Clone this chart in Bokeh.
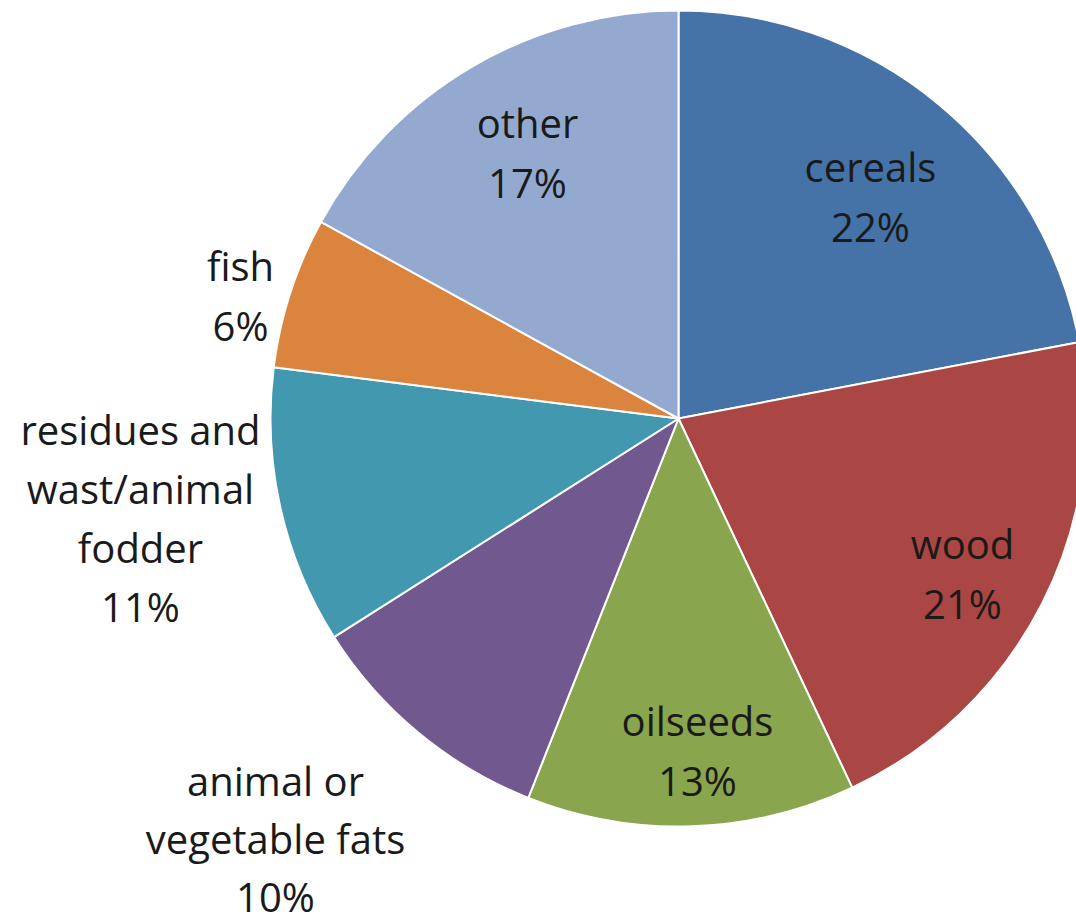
import math
from bokeh.plotting import figure
from bokeh.models import Range1d, ColumnDataSource
from bokeh.core.properties import value
from bokeh.embed import file_html
from bokeh.resources import INLINE

# ---- data ----
categories = ["cereals", "wood", "oilseeds", "animal or vegetable fats",
              "residues and wast/animal fodder", "fish", "other"]
shares = [22, 21, 13, 10, 11, 6, 17]
label_lines = [["cereals"], ["wood"], ["oilseeds"], ["animal or", "vegetable fats"],
               ["residues and", "wast/animal", "fodder"], ["fish"], ["other"]]
colors = ["#4572A7", "#AA4643", "#89A54E", "#71588F", "#4198AF", "#DB843D", "#93A9CF"]

# ---- layout (picture pixel coordinates) ----
W, H = 1076, 924
cx, cy, R = 678, 418, 408
label_pos = [(870, 196), (962, 573), (697, 750), (275, 838),
             (140, 517), (240, 295), (527, 152)]
label_lh = [60, 60, 60, 58, 59, 60, 60]
FONT = "Open Sans"
FSIZE = "40px"

p = figure(width=W, height=H, output_backend="svg", toolbar_location=None,
           x_range=Range1d(0, W), y_range=Range1d(0, H),
           min_border=0)
p.axis.visible = False
p.grid.visible = False
p.outline_line_color = None
p.background_fill_color = "white"

total = float(sum(shares))
starts, ends = [], []
cum = 0.0
for s in shares:
    a0 = math.pi / 2 - 2 * math.pi * cum / total
    cum += s
    a1 = math.pi / 2 - 2 * math.pi * cum / total
    starts.append(a1)
    ends.append(a0)

src = ColumnDataSource(dict(start=starts, end=ends, color=colors, cat=categories))
p.wedge(x=cx, y=H - cy, radius=R, start_angle="start", end_angle="end",
        direction="anticlock", fill_color="color", line_color="white",
        line_width=2, source=src)

tx, ty, tt = [], [], []
for lines, s, (lx, ly), lh in zip(label_lines, shares, label_pos, label_lh):
    allines = lines + [f"{s}%"]
    n = len(allines)
    for i, t in enumerate(allines):
        yy = ly + (i - (n - 1) / 2) * lh
        tx.append(lx)
        ty.append(H - yy)
        tt.append(t)

p.text(x=tx, y=ty, text=tt, text_align="center", text_baseline="middle",
       text_font=value(FONT), text_font_size=FSIZE, text_color="#1a1a1a")

open("out.html", "w").write(file_html(p, INLINE))
